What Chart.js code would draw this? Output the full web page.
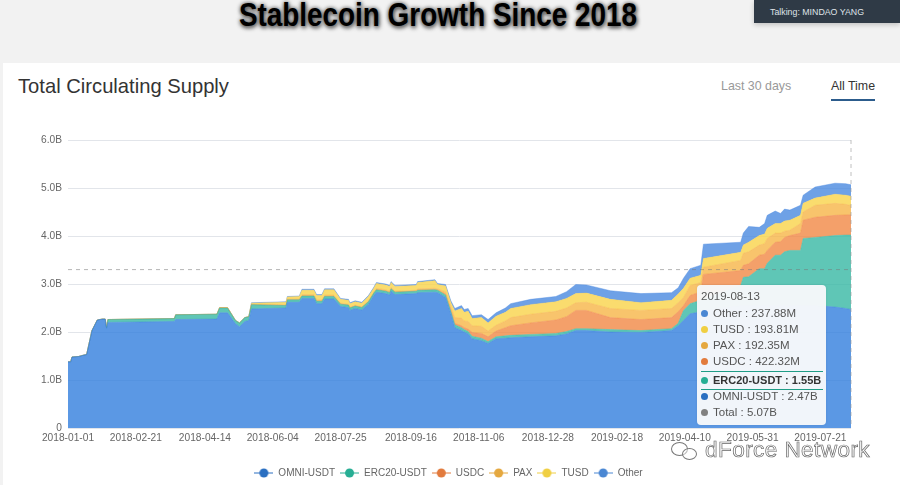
<!DOCTYPE html>
<html>
<head>
<meta charset="utf-8">
<script src="https://cdn.jsdelivr.net/npm/chart.js@4"></script>
<style>
    html, body { margin: 0; padding: 0; width: 900px; height: 485px; overflow: hidden; background: #f2f2f2; font-family: "Liberation Sans", sans-serif; }
    .abs { position: absolute; white-space: nowrap; }
    #card { left: 3px; top: 63px; width: 897px; height: 422px; background: #fff; }
    #headline { left: 0; width: 876px; top: -5px; text-align: center; font: bold 34px "Liberation Sans", sans-serif; color: #000; text-shadow: 0 0 5px #555, 1px 2px 5px #555; transform: scaleX(.82); }
    #talking { left: 754px; top: 0; width: 146px; height: 23px; background: #2f3a46; color: #dfe3e8; font-size: 8.8px; line-height: 24px; text-indent: 16px; box-shadow: 0 2px 5px rgba(0,0,0,.2); }
    #subtitle { left: 18px; top: 75px; font-size: 20.2px; color: #333; }
    #last30 { left: 721px; top: 79px; font-size: 12.4px; color: #999; }
    #allTime { left: 831px; top: 79px; font-size: 12.4px; color: #333; padding-bottom: 6px; border-bottom: 2px solid #2c5c8c; }
    #chart { position: absolute; left: 0; top: 0; }
    #tip { left: 697px; top: 285px; width: 129px; height: 140px; background: rgba(246,248,250,.97); border-radius: 4px; font-size: 11.5px; color: #555; box-shadow: 0 0 3px rgba(0,0,0,.08); }
    #tip div { position: absolute; left: 4px; white-space: nowrap; }
    #tip i { display: inline-block; width: 7px; height: 7px; border-radius: 50%; margin: 0 5px 0 0; }
    #tip .hi { font-weight: bold; font-size: 11px; color: #333; border-top: 1px solid #1f9c86; border-bottom: 1px solid #1f9c86; width: 122px; height: 17px; line-height: 17px; }
    #mark { left: 705px; top: 437px; font-size: 22.6px; color: #fff; -webkit-text-stroke: 0.7px #666; letter-spacing: .4px; }
    .wx { position: absolute; border: 1px solid #777; border-radius: 50%; background: rgba(255,255,255,.5); }
</style>
</head>
<body>
<div class="abs" id="card"></div>
<div class="abs" id="headline">Stablecoin Growth Since 2018</div>
<div class="abs" id="talking">Talking: MINDAO YANG</div>
<div class="abs" id="subtitle">Total Circulating Supply</div>
<div class="abs" id="last30">Last 30 days</div>
<div class="abs" id="allTime">All Time</div>
<canvas id="chart" width="900" height="485"></canvas>
<div class="abs" id="tip"></div>
<div class="wx" style="left:671px;top:442px;width:15px;height:12px"></div>
<div class="wx" style="left:682px;top:448px;width:13px;height:10px"></div>
<div class="abs" id="mark">dForce Network</div>

<script>
const tickDates = ['2018-01-01', '2018-02-21', '2018-04-14', '2018-06-04', '2018-07-25', '2018-09-16',
    '2018-11-06', '2018-12-28', '2019-02-18', '2019-04-10', '2019-05-31', '2019-07-21'];

const DAY = 86400000;
const start = Date.UTC(2018, 0, 1);
function toDay(s) { return Math.round((Date.parse(s + 'T00:00:00Z') - start) / DAY); }
function toDate(d) { return new Date(start + d * DAY).toISOString().slice(0, 10); }

// day since 2018-01-01, then supply in billions: omni, erc20, usdc, pax, tusd, other
const rows = [
    [0, 1.38, 0, 0, 0, 0, 0], [2, 1.38, 0, 0, 0, 0, 0], [3, 1.48, 0, 0, 0, 0, 0], [8, 1.49, 0, 0, 0, 0, 0],
    [12, 1.52, 0, 0, 0, 0, 0], [14, 1.53, 0, 0, 0, 0, 0], [18, 2.03, 0, 0, 0, 0, 0], [22, 2.25, 0, 0, 0, 0, 0],
    [26, 2.27, 0, 0, 0, 0, 0], [28, 2.27, 0, 0, 0, 0, 0], [29, 2.07, 0.02, 0, 0, 0, 0], [30, 2.20, 0.06, 0, 0, 0, 0],
    [80, 2.22, 0.06, 0, 0, 0, 0], [81, 2.26, 0.10, 0, 0, 0, 0], [112, 2.27, 0.10, 0, 0, 0, 0], [114, 2.40, 0.10, 0, 0.01, 0, 0],
    [120, 2.40, 0.10, 0, 0.01, 0, 0], [126, 2.17, 0.07, 0, 0, 0, 0], [129, 2.11, 0.08, 0, 0, 0, 0], [133, 2.22, 0.08, 0, 0, 0, 0],
    [136, 2.24, 0.08, 0, 0, 0, 0], [138, 2.48, 0.09, 0, 0.01, 0.02, 0.01], [164, 2.50, 0.05, 0, 0.02, 0.05, 0.01],
    [165, 2.62, 0.05, 0, 0.02, 0.04, 0.01], [174, 2.62, 0.05, 0, 0.02, 0.05, 0.01], [176, 2.70, 0.05, 0, 0.03, 0.09, 0.02],
    [185, 2.70, 0.05, 0, 0.03, 0.09, 0.02], [187, 2.59, 0.05, 0, 0.03, 0.09, 0.02], [191, 2.59, 0.05, 0, 0.03, 0.09, 0.02],
    [193, 2.69, 0.05, 0, 0.03, 0.11, 0.02], [200, 2.69, 0.05, 0, 0.03, 0.11, 0.02], [205, 2.53, 0.05, 0, 0.02, 0.08, 0.02],
    [211, 2.51, 0.05, 0, 0.02, 0.08, 0.02], [212, 2.45, 0.05, 0, 0.02, 0.07, 0.02], [216, 2.49, 0.05, 0, 0.02, 0.07, 0.02],
    [221, 2.46, 0.05, 0, 0.02, 0.07, 0.02], [226, 2.58, 0.05, 0, 0.02, 0.09, 0.02], [230, 2.76, 0.05, 0, 0.02, 0.08, 0.02],
    [232, 2.83, 0.05, 0, 0.03, 0.10, 0.02], [239, 2.80, 0.05, 0, 0.03, 0.10, 0.02], [242, 2.77, 0.05, 0, 0.03, 0.10, 0.02],
    [243, 2.85, 0.05, 0, 0.03, 0.10, 0.02], [246, 2.78, 0.05, 0, 0.02, 0.10, 0.02], [262, 2.80, 0.05, 0, 0.02, 0.10, 0.02],
    [263, 2.82, 0.05, 0, 0.03, 0.13, 0.02], [276, 2.83, 0.05, 0, 0.03, 0.16, 0.02], [278, 2.82, 0.05, 0, 0.03, 0.09, 0.02],
    [284, 2.72, 0.05, 0.02, 0.05, 0.12, 0.03], [288, 2.38, 0.05, 0.02, 0.08, 0.08, 0.04], [291, 2.09, 0.06, 0.03, 0.12, 0.14, 0.05],
    [296, 2.03, 0.06, 0.04, 0.16, 0.20, 0.06], [298, 2.00, 0.05, 0.04, 0.14, 0.18, 0.06], [301, 1.96, 0.05, 0.05, 0.16, 0.21, 0.06],
    [304, 1.86, 0.05, 0.08, 0.14, 0.15, 0.06], [311, 1.82, 0.05, 0.10, 0.15, 0.18, 0.06], [316, 1.76, 0.04, 0.10, 0.12, 0.17, 0.07],
    [322, 1.86, 0.04, 0.12, 0.12, 0.19, 0.07], [329, 1.87, 0.05, 0.17, 0.14, 0.18, 0.09], [333, 1.88, 0.05, 0.20, 0.17, 0.19, 0.10],
    [348, 1.90, 0.05, 0.24, 0.18, 0.20, 0.11], [367, 1.92, 0.05, 0.28, 0.18, 0.20, 0.11], [375, 1.96, 0.05, 0.31, 0.18, 0.20, 0.14],
    [382, 2.03, 0.04, 0.38, 0.16, 0.19, 0.19], [390, 2.03, 0.04, 0.38, 0.17, 0.19, 0.17], [408, 2.00, 0.05, 0.25, 0.19, 0.19, 0.18],
    [431, 1.99, 0.04, 0.23, 0.19, 0.16, 0.19], [454, 2.03, 0.04, 0.23, 0.19, 0.17, 0.16], [459, 2.13, 0.05, 0.24, 0.19, 0.18, 0.13],
    [463, 2.24, 0.21, 0.10, 0.17, 0.19, 0.21], [468, 2.38, 0.21, 0.17, 0.21, 0.15, 0.20], [476, 2.42, 0.24, 0.18, 0.19, 0.15, 0.21],
    [478, 2.46, 0.22, 0.52, 0.15, 0.18, 0.30], [506, 2.55, 0.42, 0.31, 0.21, 0.17, 0.21], [508, 2.55, 0.59, 0.25, 0.25, 0.17, 0.25],
    [512, 2.55, 0.60, 0.27, 0.25, 0.20, 0.33], [520, 2.55, 0.77, 0.28, 0.21, 0.20, 0.17], [524, 2.55, 0.77, 0.30, 0.22, 0.20, 0.22],
    [526, 2.55, 0.88, 0.27, 0.25, 0.21, 0.27], [532, 2.55, 1.05, 0.27, 0.19, 0.20, 0.26], [536, 2.55, 1.05, 0.28, 0.18, 0.20, 0.21],
    [539, 2.55, 1.12, 0.30, 0.13, 0.21, 0.25], [543, 2.55, 1.15, 0.31, 0.11, 0.21, 0.21], [551, 2.55, 1.15, 0.36, 0.20, 0.17, 0.21],
    [553, 2.55, 1.40, 0.38, 0.17, 0.18, 0.17], [562, 2.55, 1.42, 0.42, 0.25, 0.15, 0.23], [577, 2.52, 1.49, 0.42, 0.25, 0.19, 0.23],
    [585, 2.49, 1.53, 0.42, 0.22, 0.19, 0.24], [589, 2.47, 1.55, 0.42232, 0.19235, 0.19381, 0.23788]
];

const series = [
    { name: 'OMNI-USDT', fill: '#327edd', mark: '#2a6fc1' },
    { name: 'ERC20-USDT', fill: '#37b8a4', mark: '#27ae94' },
    { name: 'USDC', fill: '#f18845', mark: '#e27b3d' },
    { name: 'PAX', fill: '#f6b547', mark: '#e5a83f' },
    { name: 'TUSD', fill: '#f9d34a', mark: '#f0cf42' },
    { name: 'Other', fill: '#4a89e0', mark: '#4a87d3' }
];

// little line + dot used for the legend keys
function legendKey(color) {
    const c = document.createElement('canvas');
    c.width = 19; c.height = 10;
    const g = c.getContext('2d');
    g.strokeStyle = color; g.fillStyle = color; g.lineWidth = 1;
    g.beginPath(); g.moveTo(0, 5); g.lineTo(19, 5); g.stroke();
    g.beginPath(); g.arc(9.5, 5, 4.5, 0, Math.PI * 2); g.fill();
    return c;
}

const datasets = series.map(function (s, i) {
    return {
        label: s.name,
        data: rows.map(function (r) { return { x: r[0], y: r[i + 1] }; }),
        backgroundColor: s.fill + 'cc',
        borderColor: s.fill + 'cc',
        borderWidth: 0.5,
        fill: i === 0 ? 'origin' : '-1',
        pointRadius: 0,
        pointStyle: legendKey(s.mark),
        tension: 0
    };
});

// dashed crosshair of the hovered point
const crosshair = {
    id: 'crosshair',
    afterLayout: function (chart) {
        // legend sits centred on the whole card, not on the plot
        chart.legend.left += 23;
        chart.legend.right += 23;
    },
    afterDatasetsDraw: function (chart) {
        const g = chart.ctx, x = chart.scales.x, y = chart.scales.y;
        g.save();
        g.setLineDash([4, 4]);
        g.lineWidth = 1;
        g.strokeStyle = 'rgba(120,120,120,.55)';
        g.beginPath();
        g.moveTo(x.left, y.getPixelForValue(3.3));
        g.lineTo(x.right, y.getPixelForValue(3.3));
        g.stroke();
        g.strokeStyle = 'rgba(150,150,150,.6)';
        g.beginPath();
        g.moveTo(x.right, y.top);
        g.lineTo(x.right, y.bottom);
        g.stroke();
        g.restore();
    }
};

new Chart(document.getElementById('chart').getContext('2d'), {
    type: 'line',
    data: { datasets: datasets },
    plugins: [crosshair],
    options: {
        responsive: false,
        animation: false,
        layout: { padding: { top: 140, right: 49, bottom: -3 } },
        plugins: {
            tooltip: { enabled: false },
            legend: {
                position: 'bottom',
                labels: {
                    usePointStyle: true,
                    pointStyleWidth: 19,
                    boxHeight: 10,
                    color: '#666',
                    padding: 5,
                    font: { size: 10, family: '"Liberation Sans", sans-serif' }
                }
            }
        },
        scales: {
            x: {
                type: 'linear',
                min: 0,
                max: 589,
                afterBuildTicks: function (scale) {
                    scale.ticks = tickDates.map(function (s) { return { value: toDay(s) }; });
                },
                afterFit: function (scale) { scale.height = 35; },
                grid: { display: false, drawTicks: false },
                border: { display: false },
                ticks: {
                    autoSkip: false,
                    maxRotation: 0,
                    padding: 4,
                    color: '#666',
                    font: { size: 10.2, family: '"Liberation Sans", sans-serif' },
                    callback: function (v) { return toDate(v); }
                }
            },
            y: {
                stacked: true,
                min: 0,
                max: 6,
                afterFit: function (scale) { scale.width = 68; },
                grid: { color: '#e2e5ea', drawTicks: false },
                border: { display: false },
                ticks: {
                    stepSize: 1,
                    padding: 6,
                    color: '#666',
                    font: { size: 10.2, family: '"Liberation Sans", sans-serif' },
                    callback: function (v) { return v === 0 ? '0' : v.toFixed(1) + 'B'; }
                }
            }
        }
    }
});

// readout for the last day, Other on top like the stack
function fmt(v) { return v >= 1 ? v.toFixed(2) + 'B' : (v * 1000).toFixed(2) + 'M'; }

function drawTip() {
    const last = rows[rows.length - 1];
    const tip = document.getElementById('tip');
    let html = '<div style="top:5px">' + toDate(last[0]) + '</div>';
    const tops = { Other: 22, TUSD: 38, PAX: 54, USDC: 70, 'ERC20-USDT': 86, 'OMNI-USDT': 105 };
    for (let i = series.length - 1; i >= 0; i--) {
        const s = series[i];
        const cls = s.name === 'ERC20-USDT' ? ' class="hi"' : '';
        html += '<div' + cls + ' style="top:' + tops[s.name] + 'px"><i style="background:' + s.mark + '"></i>' + s.name + ' : ' + fmt(last[i + 1]) + '</div>';
    }
    const total = last.slice(1).reduce(function (a, b) { return a + b; }, 0);
    html += '<div style="top:121px"><i style="background:#808080"></i>Total : ' + fmt(total) + '</div>';
    tip.innerHTML = html;
}
drawTip();
</script>
</body>
</html>
